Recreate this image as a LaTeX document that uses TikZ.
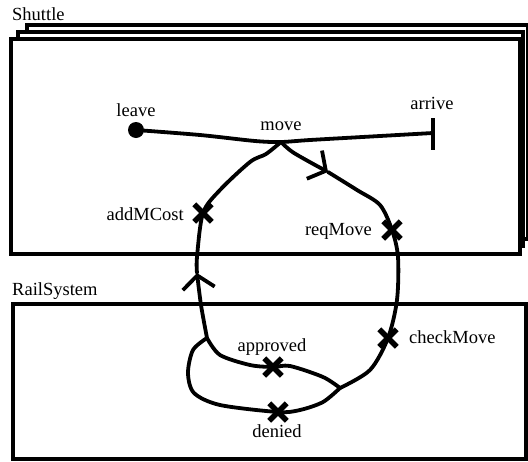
\documentclass[tikz,border=0pt]{standalone}
\usepackage{fontspec}
\setmainfont{Liberation Serif}
\usetikzlibrary{arrows.meta,shapes.misc}
\begin{document}
\begin{tikzpicture}[x=1pt,y=1pt,
  frame/.style={draw=black,fill=white,line width=4pt},
  wire/.style={line width=3.8pt,line cap=round,line join=round},
  lbl/.style={font=\fontsize{18.5}{20}\selectfont,inner sep=0pt},
  xm/.style={cross out,draw,line width=5.5pt,minimum size=12pt,inner sep=0pt},
  barb/.style={-{Straight Barb[length=13pt,width=32pt]}}
]
\useasboundingbox (0,0) rectangle (528,-461);
\clip (0,0) rectangle (528,-461);

% Shuttle: stacked frames (multiple instances)
\draw[frame] (27,-25) rectangle (528,-239);
\draw[frame] (18,-32) rectangle (523,-246);
\draw[frame] (10.5,-39) rectangle (519.5,-253.5);
\node[lbl,anchor=base west] (shuttle) at (12,-20) {Shuttle};

% RailSystem frame
\draw[frame] (13,-303.5) rectangle (526,-458.5);
\node[lbl,anchor=base west] (rail) at (12,-295) {RailSystem};

% key points of the interaction paths
\coordinate (leave) at (136,-130);
\coordinate (move) at (281,-142);
\coordinate (arrive) at (433,-133);
\coordinate (jl) at (207,-338);
\coordinate (jr) at (340,-388);
\coordinate (la) at (197,-273);
\coordinate (ra) at (328,-172);
\coordinate (addX) at (203,-213);
\coordinate (reqX) at (392,-230);
\coordinate (chkX) at (388,-338);
\coordinate (appX) at (273,-367);
\coordinate (denX) at (278,-412);

% leave -> move -> arrive
\draw[wire] plot[smooth,tension=0.5] coordinates {(leave) (200,-135) (255,-141) (move) (310,-140) (380,-136) (arrive)};
\fill (leave) circle (8);
\draw[line width=4.5pt] (arrive) ++(0,15) -- ++(0,-32);

% left branch: back up to move
\draw[wire,barb] plot[smooth] coordinates {(jl) (201,-305) (la)};
\draw[wire] plot[smooth] coordinates {(la) (197,-257) (addX) (220,-190) (250,-162) (266,-154) (move)};

% right branch: move down to the rail system
\draw[wire,barb] plot[smooth] coordinates {(move) (294,-153) (ra)};
\draw[wire] plot[smooth] coordinates {(ra) (357,-190) (380,-205) (reqX) (398,-257) (397,-300) (chkX) (370,-370) (jr)};

% approved / denied alternatives
\draw[wire] plot[smooth] coordinates {(jl) (220,-355) (250,-365) (appX) (290,-366) (323,-377) (jr)};
\draw[wire] plot[smooth] coordinates {(jl) (193,-350) (188,-373) (194,-393) (220,-405) (denX) (300,-410) (323,-402) (jr)};

% event marks
\node[xm] (addMark) at (addX) {};
\node[xm] (reqMark) at (reqX) {};
\node[xm] (chkMark) at (chkX) {};
\node[xm] (appMark) at (appX) {};
\node[xm] (denMark) at (denX) {};

% labels
\node[lbl,anchor=base] (leaveL) at (136,-116) {leave};
\node[lbl,anchor=base] (moveL) at (281,-130) {move};
\node[lbl,anchor=base] (arriveL) at (432,-109) {arrive};
\node[lbl,anchor=base east] (addL) at (184,-220) {addMCost};
\node[lbl,anchor=base east] (reqL) at (372,-235) {reqMove};
\node[lbl,anchor=base west] (chkL) at (409,-343) {checkMove};
\node[lbl,anchor=base] (appL) at (272,-351) {approved};
\node[lbl,anchor=base] (denL) at (277,-437) {denied};
\end{tikzpicture}
\end{document}
